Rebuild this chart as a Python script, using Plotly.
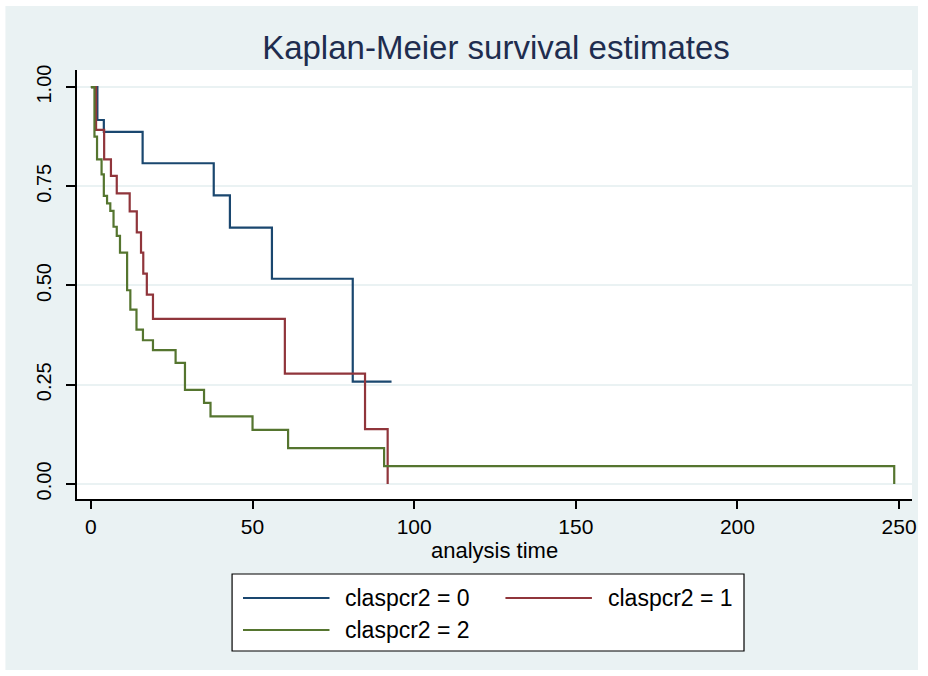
import plotly.graph_objects as go

# Kaplan-Meier step data (analysis time, survival)
blue_t = [0, 2, 4, 16, 38, 43, 56, 81, 93]
blue_s = [1, 0.917, 0.887, 0.808, 0.727, 0.646, 0.517, 0.258, 0.258]

red_t = [0, 1.6, 4.1, 6.2, 8, 12, 14.2, 15.5, 16.2, 17.3, 19.2, 60, 84.8, 91.8]
red_s = [1, 0.892, 0.818, 0.776, 0.732, 0.687, 0.634, 0.583, 0.530, 0.477, 0.416, 0.278, 0.138, 0]

green_t = [0, 1.1, 1.9, 3.3, 4, 5, 6, 7, 8, 9, 11.2, 12.2, 14.1, 16.1, 19.2, 26.2, 29.1, 35, 37, 50, 61, 90.7, 248.5]
green_s = [1, 0.875, 0.818, 0.78, 0.726, 0.707, 0.688, 0.648, 0.625, 0.583, 0.488, 0.439, 0.389, 0.362, 0.337,
           0.305, 0.237, 0.204, 0.170, 0.136, 0.090, 0.045, 0]

series_names = ["claspcr2 = 0", "claspcr2 = 1", "claspcr2 = 2"]
series_colors = ["#1a476f", "#90353b", "#55752f"]

x_ticks = [0, 50, 100, 150, 200, 250]
y_ticks = [0, 0.25, 0.5, 0.75, 1.0]
y_tick_labels = ["0.00", "0.25", "0.50", "0.75", "1.00"]

W, H = 928, 676
L, R, T, B = 77, 917, 70, 499  # plot-area pixel box
FONT = "Liberation Sans, Arial, sans-serif"


def px_x(p):
    return (p - L) / (R - L)


def px_y(p):
    return (B - p) / (B - T)


fig = go.Figure()
for t, s, name, col in zip([blue_t, red_t, green_t], [blue_s, red_s, green_s], series_names, series_colors):
    fig.add_trace(go.Scatter(x=t, y=s, mode="lines", line=dict(color=col, width=2.2, shape="hv"),
                             name=name, showlegend=False))

shapes = [
    # graph region background
    dict(type="rect", xref="paper", yref="paper", x0=px_x(5), x1=px_x(923), y0=px_y(670), y1=px_y(6),
         fillcolor="#eaf2f3", line=dict(width=0), layer="below"),
    # plot region
    dict(type="rect", xref="paper", yref="paper", x0=0, x1=1, y0=0, y1=1,
         fillcolor="white", line=dict(width=0), layer="below"),
    # legend box
    dict(type="rect", xref="paper", yref="paper", x0=px_x(233), x1=px_x(748), y0=px_y(651), y1=px_y(574),
         fillcolor="white", line=dict(color="black", width=1.2), layer="above"),
]
annotations = [
    dict(text="analysis time", xref="paper", yref="paper", x=0.5, y=px_y(550), showarrow=False,
         xanchor="center", yanchor="middle", font=dict(family=FONT, size=22, color="black")),
]
legend_pos = [(244, 331, 345, 598), (508, 595, 609, 598), (244, 331, 345, 630)]
for (lx0, lx1, tx, ly), name, col in zip(legend_pos, series_names, series_colors):
    shapes.append(dict(type="line", xref="paper", yref="paper", x0=px_x(lx0), x1=px_x(lx1),
                       y0=px_y(ly), y1=px_y(ly), line=dict(color=col, width=2), layer="above"))
    annotations.append(dict(text=name, xref="paper", yref="paper", x=px_x(tx), y=px_y(ly), showarrow=False,
                            xanchor="left", yanchor="middle", font=dict(family=FONT, size=23, color="black")))

fig.update_layout(
    width=W, height=H,
    margin=dict(l=L, r=W - R, t=T, b=H - B, pad=0),
    paper_bgcolor="white", plot_bgcolor="white",
    font=dict(family=FONT, color="black"),
    title=dict(text="Kaplan-Meier survival estimates", x=(496) / W, xanchor="center",
               y=1 - 47 / H, yanchor="middle", yref="container",
               font=dict(family=FONT, size=33, color="#1e2d4f")),
    shapes=shapes, annotations=annotations,
    xaxis=dict(range=[-4.3, 254], tickvals=x_ticks, ticks="outside", ticklen=8, tickwidth=1.5,
               tickcolor="black", showline=True, linecolor="black", linewidth=1.5, showgrid=False,
               zeroline=False, tickfont=dict(family=FONT, size=21, color="black")),
    yaxis=dict(range=[-0.038, 1.043], tickvals=y_ticks, ticktext=y_tick_labels, ticks="outside",
               ticklen=9, tickwidth=1.5, tickcolor="black", showline=True, linecolor="black",
               linewidth=1.5, showgrid=True, gridcolor="#eaf2f3", gridwidth=2, zeroline=False,
               tickangle=-90, ticklabelstandoff=7,
               tickfont=dict(family=FONT, size=20, color="black")),
)

fig.write_html("out.html")
